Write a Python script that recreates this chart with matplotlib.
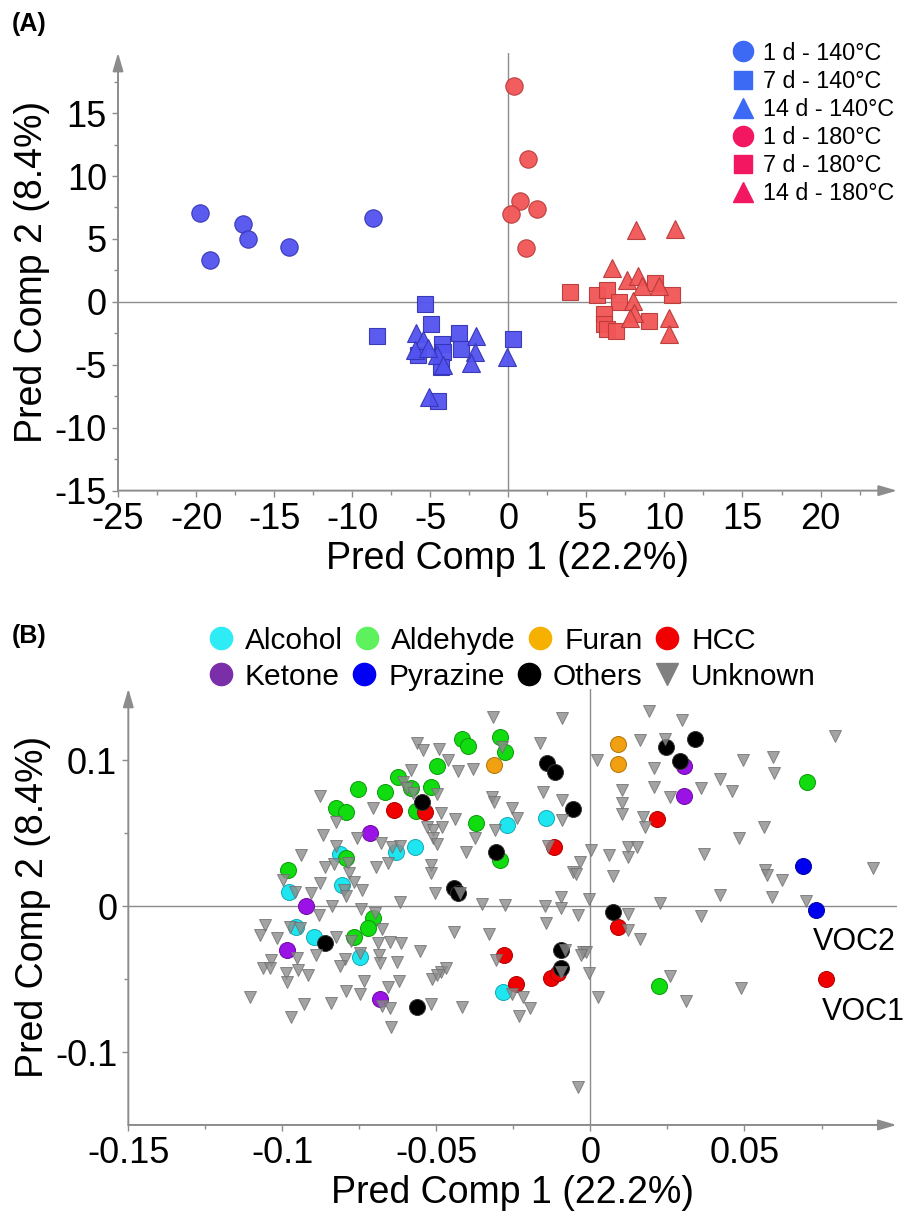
import matplotlib
matplotlib.use('Agg')
import matplotlib.pyplot as plt
from matplotlib.lines import Line2D
from matplotlib.ticker import FixedLocator, FixedFormatter

plt.rcParams['font.family'] = ['Liberation Sans', 'DejaVu Sans']
plt.rcParams['axes.unicode_minus'] = False

# ---------------- panel A : scores ----------------
a_1d140_x = [-19.76, -19.12, -17.02, -16.70, -14.03, -8.67]
a_1d140_y = [7.06, 3.31, 6.22, 5.03, 4.34, 6.67]
a_7d140_x = [-5.35, -4.97, -8.42, -3.17, 0.28, -4.24, -4.18, -3.04, -5.78, -4.28, -4.50]
a_7d140_y = [-0.21, -1.77, -2.70, -2.51, -2.99, -3.31, -3.97, -3.76, -4.23, -5.16, -7.86]
a_14d140_x = [-5.93, -5.46, -5.95, -2.08, -2.14, -2.42, -0.06, -4.54, -4.18, -5.07, -5.14]
a_14d140_y = [-2.46, -3.04, -3.84, -2.72, -3.97, -4.84, -4.42, -4.23, -5.03, -7.59, -3.70]

a_1d180_x = [0.37, 1.24, 0.75, 0.17, 1.82, 1.13]
a_1d180_y = [17.17, 11.32, 8.02, 6.96, 7.35, 4.29]
a_7d180_x = [3.93, 5.67, 6.31, 7.10, 9.42, 10.51, 6.15, 6.15, 6.31, 6.92, 9.03]
a_7d180_y = [0.82, 0.53, 0.93, -0.05, 1.53, 0.53, -0.98, -1.72, -2.17, -2.30, -1.56]
a_14d180_x = [8.19, 10.66, 6.65, 7.62, 8.30, 8.58, 9.67, 8.01, 8.08, 7.78, 10.28, 10.28]
a_14d180_y = [5.69, 5.77, 2.72, 1.72, 2.06, 1.27, 1.27, 0.08, -0.85, -1.30, -1.30, -2.57]

a_labels = ['1 d - 140°C', '7 d - 140°C', '14 d - 140°C',
            '1 d - 180°C', '7 d - 180°C', '14 d - 180°C']

# ---------------- panel B : loadings ----------------
alc_x = [-0.0271, -0.0143, -0.0630, -0.0570, -0.0814, -0.0807, -0.0979, -0.0955, -0.0898, -0.0749, -0.0284]
alc_y = [0.0555, 0.0601, 0.0368, 0.0402, 0.0356, 0.0144, 0.0094, -0.0142, -0.0210, -0.0347, -0.0591]

ald_x = [-0.0417, -0.0399, -0.0294, -0.0278, -0.0498, -0.0625, -0.0584, -0.0519, -0.0756, -0.0666,
         -0.0825, -0.0795, -0.0567, -0.0370, -0.0795, -0.0982, -0.0294, -0.0706, -0.0722, -0.0769,
         0.0703, 0.0222]
ald_y = [0.1144, 0.1096, 0.1155, 0.1057, 0.0959, 0.0881, 0.0806, 0.0817, 0.0799, 0.0779,
         0.0669, 0.0646, 0.0653, 0.0566, 0.0327, 0.0247, 0.0315, -0.0084, -0.0153, -0.0210,
         0.0847, -0.0546]

fur_x = [-0.0314, 0.0090, 0.0090]
fur_y = [0.0966, 0.1108, 0.0973]

hcc_x = [-0.0638, -0.0538, -0.0118, -0.0282, -0.0243, -0.0127, -0.0105, 0.0216, 0.0090, 0.0763]
hcc_y = [0.0658, 0.0646, 0.0406, -0.0336, -0.0534, -0.0495, -0.0461, 0.0596, -0.0146, -0.0502]

ket_x = [-0.0717, -0.0922, -0.0985, -0.0684, 0.0303, 0.0303]
ket_y = [0.0498, 0.0, -0.0301, -0.0637, 0.0959, 0.0755]

pyr_x = [0.0690, 0.0731]
pyr_y = [0.0274, -0.0029]

oth_x = [-0.0140, -0.0116, -0.0547, -0.0058, -0.0305, -0.0444, -0.0430, -0.0860, -0.0563,
         -0.0094, -0.0094, 0.0339, 0.0244, 0.0292, 0.0073]
oth_y = [0.0982, 0.0920, 0.0714, 0.0662, 0.0372, 0.0121, 0.0091, -0.0251, -0.0694,
         -0.0301, -0.0427, 0.1144, 0.1087, 0.0993, -0.0039]

unk_x = [-0.0316,
         -0.0562, -0.0545, -0.0492, -0.0462, -0.0430, -0.0381, -0.0165, -0.0287, -0.0581, -0.0608,
         -0.0597, -0.0576, -0.0497, -0.0879, -0.0706, -0.0318, -0.0314, -0.0256, -0.0238, -0.0154,
         -0.0485, -0.0441, -0.0529, -0.0511, -0.0482, -0.0827, -0.0868, -0.0758, -0.0679, -0.0644,
         -0.0619, -0.0511, -0.0498, -0.0376, -0.0310, -0.0403, -0.0138, -0.0938, -0.0825, -0.0863,
         -0.0833, -0.0787, -0.0785, -0.0697, -0.0657, -0.0519, -0.0516, -0.0998, -0.0877, -0.0768,
         -0.0742, -0.0801, -0.0906, -0.0960, -0.0792, -0.0506, -0.0424,
         0.0190, 0.0297, -0.0091, 0.0793, 0.0162, 0.0241, 0.0021, 0.0206, 0.0494, 0.0593,
         0.0596, 0.0420, 0.0458, 0.0360, 0.0206, 0.0257, 0.0101, 0.0101, 0.0101, 0.0171,
         0.0176, 0.0563, 0.0481, 0.0003, 0.0059, 0.0122, 0.0151, 0.0122, 0.0368, -0.0035,
         -0.0056, -0.0048, 0.0073, 0.0566, 0.0572, 0.0623, 0.0918, 0.0420, 0.0589, -0.0005,
         -0.0094, -0.0091, -0.0091,
         0.0225, 0.0701, -0.0094, -0.0040, 0.0122, 0.0360, 0.0122, 0.0160, -0.0024, -0.0013,
         -0.0032, -0.0083, -0.0005, 0.0257, 0.0025, 0.0309, 0.0490, -0.0040, -0.0094,
         -0.0619, -0.0838, -0.0744, -0.0700, -0.0882, -0.0351, -0.0276, -0.0148, -0.1057, -0.1074,
         -0.1019, -0.0976, -0.0944, -0.0825, -0.0675, -0.0443, -0.0329, -0.0143, -0.0778, -0.0690,
         -0.0652, -0.0616, -0.0554, -0.0890, -0.0953, -0.1036, -0.1063, -0.1041, -0.0949, -0.0987,
         -0.0917, -0.0798, -0.0812, -0.0749, -0.0687, -0.0684, -0.0628, -0.0985, -0.0736, -0.0621,
         -0.0657, -0.0792, -0.0749, -0.0514, -0.0484, -0.0468, -0.0499, -0.0305, -0.1104, -0.0930,
         -0.0843, -0.0971, -0.0677, -0.0652, -0.0519, -0.0416, -0.0649, -0.0256, -0.0219, -0.0195,
         -0.0232]
unk_y = [0.1297,
         0.1115, 0.1069, 0.1073, 0.1000, 0.0927, 0.0936, 0.1119, 0.1091, 0.0932, 0.0851,
         0.0806, 0.0772, 0.0767, 0.0754, 0.0669, 0.0745, 0.0714, 0.0669, 0.0605, 0.0783,
         0.0635, 0.0596, 0.0539, 0.0521, 0.0539, 0.0577, 0.0486, 0.0464, 0.0430, 0.0406,
         0.0411, 0.0464, 0.0425, 0.0464, 0.0521, 0.0368, 0.0411, 0.0349, 0.0411, 0.0269,
         0.0288, 0.0292, 0.0224, 0.0269, 0.0292, 0.0281, 0.0224, 0.0178, 0.0155, 0.0166,
         0.0110, 0.0110, 0.0087, 0.0094, 0.0068, 0.0087, 0.0087,
         0.1338, 0.1274, 0.1286, 0.1165, 0.1137, 0.1142, 0.1000, 0.0943, 0.1000, 0.1023,
         0.0913, 0.0868, 0.0788, 0.0806, 0.0817, 0.0745, 0.0795, 0.0708, 0.0630, 0.0612,
         0.0543, 0.0539, 0.0468, 0.0384, 0.0349, 0.0406, 0.0406, 0.0338, 0.0356, 0.0303,
         0.0235, 0.0219, 0.0205, 0.0247, 0.0212, 0.0178, 0.0258, 0.0075, 0.0064, 0.0050,
         0.0064, 0.0726, 0.0589,
         0.0018, 0.0034, -0.0016, -0.0062, -0.0055, -0.0068, -0.0164, -0.0228, -0.0313, -0.0313,
         -0.0336, -0.0301, -0.0457, -0.0479, -0.0621, -0.0651, -0.0560, -0.1238, -0.0450,
         0.0029, 0.0, -0.0023, -0.0046, -0.0062, 0.0014, 0.0007, 0.0, -0.0130, -0.0199,
         -0.0221, -0.0142, -0.0151, -0.0210, -0.0160, -0.0176, -0.0192, -0.0118, -0.0240, -0.0255,
         -0.0245, -0.0255, -0.0306, -0.0336, -0.0358, -0.0370, -0.0427, -0.0427, -0.0438, -0.0461,
         -0.0473, -0.0365, -0.0411, -0.0324, -0.0336, -0.0388, -0.0382, -0.0518, -0.0514, -0.0514,
         -0.0557, -0.0580, -0.0605, -0.0502, -0.0450, -0.0427, -0.0473, -0.0370, -0.0625, -0.0673,
         -0.0666, -0.0758, -0.0685, -0.0701, -0.0673, -0.0690, -0.0827, -0.0605, -0.0625, -0.0701,
         -0.0753]

b_labels_row1 = ['Alcohol', 'Aldehyde', 'Furan', 'HCC']
b_labels_row2 = ['Ketone', 'Pyrazine', 'Others', 'Unknown']

GREY = '#8c8c8c'


def style_axes(ax):
    for s in ax.spines.values():
        s.set_visible(False)
    ax.annotate('', xy=(1, 0), xytext=(0, 0), xycoords='axes fraction',
                arrowprops=dict(arrowstyle='-|>,head_length=0.55,head_width=0.16',
                                color=GREY, lw=1.4, shrinkA=0, shrinkB=0, mutation_scale=20))
    ax.annotate('', xy=(0, 1), xytext=(0, 0), xycoords='axes fraction',
                arrowprops=dict(arrowstyle='-|>,head_length=0.55,head_width=0.16',
                                color=GREY, lw=1.4, shrinkA=0, shrinkB=0, mutation_scale=20))
    ax.axhline(0, color=GREY, lw=1.0, zorder=0)
    ax.axvline(0, color=GREY, lw=1.0, zorder=0)
    ax.tick_params(which='both', direction='out', color=GREY, width=1.0,
                   labelsize=26, pad=4)
    ax.tick_params(which='major', length=4)
    ax.tick_params(which='minor', length=3)
    ax.patch.set_visible(False)


fig = plt.figure(figsize=(9.05, 12.22), dpi=100)

# ---------------- (A) ----------------
ax1 = fig.add_axes([0.1304, 0.5985, 0.8608, 0.3584])
style_axes(ax1)
ax1.set_xlim(-25, 24.9)
ax1.set_ylim(-15, 19.8)

bf, be = '#5252f0', '#3434b4'
rf, re = '#f25555', '#b83a3a'
ax1.plot(a_1d140_x, a_1d140_y, 'o', ms=12.5, mfc=bf, mec=be, mew=0.8, alpha=0.95)
ax1.plot(a_7d140_x, a_7d140_y, 's', ms=11.5, mfc=bf, mec=be, mew=0.8, alpha=0.95)
ax1.plot(a_14d140_x, a_14d140_y, '^', ms=13, mfc=bf, mec=be, mew=0.8, alpha=0.95)
ax1.plot(a_1d180_x, a_1d180_y, 'o', ms=12.5, mfc=rf, mec=re, mew=0.8, alpha=0.95)
ax1.plot(a_7d180_x, a_7d180_y, 's', ms=11.5, mfc=rf, mec=re, mew=0.8, alpha=0.95)
ax1.plot(a_14d180_x, a_14d180_y, '^', ms=13, mfc=rf, mec=re, mew=0.8, alpha=0.95)

ax1.xaxis.set_major_locator(FixedLocator([-25, -20, -15, -10, -5, 0, 5, 10, 15, 20]))
ax1.xaxis.set_minor_locator(FixedLocator([-22.5, -17.5, -12.5, -7.5, -2.5, 2.5, 7.5, 12.5, 17.5, 22.5]))
ax1.yaxis.set_major_locator(FixedLocator([-15, -10, -5, 0, 5, 10, 15]))
ax1.yaxis.set_minor_locator(FixedLocator([-12.5, -7.5, -2.5, 2.5, 7.5, 12.5, 17.5]))
ax1.set_xlabel('Pred Comp 1 (22.2%)', fontsize=27, labelpad=3)
ax1.set_ylabel('Pred Comp 2 (8.4%)', fontsize=27, labelpad=3)

lb, lr = '#3d6af5', '#f21760'
a_handles = [Line2D([], [], ls='none', marker='o', ms=14.5, color=lb),
             Line2D([], [], ls='none', marker='s', ms=13, color=lb),
             Line2D([], [], ls='none', marker='^', ms=14.5, color=lb),
             Line2D([], [], ls='none', marker='o', ms=14.5, color=lr),
             Line2D([], [], ls='none', marker='s', ms=13, color=lr),
             Line2D([], [], ls='none', marker='^', ms=14.5, color=lr)]
fig.legend(a_handles, a_labels, loc='upper left', bbox_to_anchor=(0.808, 0.966),
           frameon=False, fontsize=16.8, borderpad=0, borderaxespad=0,
           handlelength=1.0, handletextpad=0.36, labelspacing=0.22)

fig.text(12 / 905, 1 - 12 / 1222, '(A)', fontsize=18, fontweight='bold', va='top', ha='left')

# ---------------- (B) ----------------
ax2 = fig.add_axes([0.1418, 0.0794, 0.849, 0.3571])
style_axes(ax2)
ax2.set_xlim(-0.15, 0.0994)
ax2.set_ylim(-0.15, 0.149)

ms_c = 11.5
ax2.plot(alc_x, alc_y, 'o', ms=ms_c, mfc='#1ee6f0', mec='#14a9b2', mew=0.7)
ax2.plot(ald_x, ald_y, 'o', ms=ms_c, mfc='#10dc10', mec='#0a9a0a', mew=0.7)
ax2.plot(fur_x, fur_y, 'o', ms=ms_c, mfc='#f0a010', mec='#b07508', mew=0.7)
ax2.plot(hcc_x, hcc_y, 'o', ms=ms_c, mfc='#f00000', mec='#b00000', mew=0.7)
ax2.plot(ket_x, ket_y, 'o', ms=ms_c, mfc='#9a12e6', mec='#6a0aa0', mew=0.7)
ax2.plot(pyr_x, pyr_y, 'o', ms=ms_c, mfc='#0000f0', mec='#0000a0', mew=0.7)
ax2.plot(oth_x, oth_y, 'o', ms=ms_c, mfc='#000000', mec='#333333', mew=0.7)
ax2.plot(unk_x, unk_y, 'v', ms=9, mfc='#8c8c8c', mec='#6e6e6e', mew=0.7, alpha=0.8)

ax2.text(0.0722, -0.0301, 'VOC2', fontsize=22, va='baseline', ha='left')
ax2.text(0.0750, -0.0781, 'VOC1', fontsize=22, va='baseline', ha='left')

ax2.xaxis.set_major_locator(FixedLocator([-0.15, -0.1, -0.05, 0, 0.05]))
ax2.xaxis.set_major_formatter(FixedFormatter(['-0.15', '-0.1', '-0.05', '0', '0.05']))
ax2.xaxis.set_minor_locator(FixedLocator([-0.125, -0.075, -0.025, 0.025, 0.075]))
ax2.yaxis.set_major_locator(FixedLocator([-0.1, 0, 0.1]))
ax2.yaxis.set_major_formatter(FixedFormatter(['-0.1', '0', '0.1']))
ax2.yaxis.set_minor_locator(FixedLocator([-0.05, 0.05]))
ax2.set_xlabel('Pred Comp 1 (22.2%)', fontsize=27, labelpad=3)
ax2.set_ylabel('Pred Comp 2 (8.4%)', fontsize=27, labelpad=3)

row1 = [Line2D([], [], ls='none', marker='o', ms=16, color='#2eecf5'),
        Line2D([], [], ls='none', marker='o', ms=16, color='#5df25d'),
        Line2D([], [], ls='none', marker='o', ms=16, color='#f5b000'),
        Line2D([], [], ls='none', marker='o', ms=16, color='#f00000')]
row2 = [Line2D([], [], ls='none', marker='o', ms=16, color='#7a2fa8'),
        Line2D([], [], ls='none', marker='o', ms=16, color='#0000f5'),
        Line2D([], [], ls='none', marker='o', ms=16, color='#000000'),
        Line2D([], [], ls='none', marker='v', ms=16, color='#808080')]
for hs, labs, yy in [(row1, b_labels_row1, 0.4871), (row2, b_labels_row2, 0.4576)]:
    fig.legend(hs, labs, loc='upper left', bbox_to_anchor=(0.2309, yy), ncol=4,
               frameon=False, fontsize=21.5, borderpad=0, borderaxespad=0,
               handlelength=0.8, handletextpad=0.4, columnspacing=0.42)

fig.text(12 / 905, 1 - 624 / 1222, '(B)', fontsize=18, fontweight='bold', va='top', ha='left')

fig.savefig('out.png', dpi=100)
